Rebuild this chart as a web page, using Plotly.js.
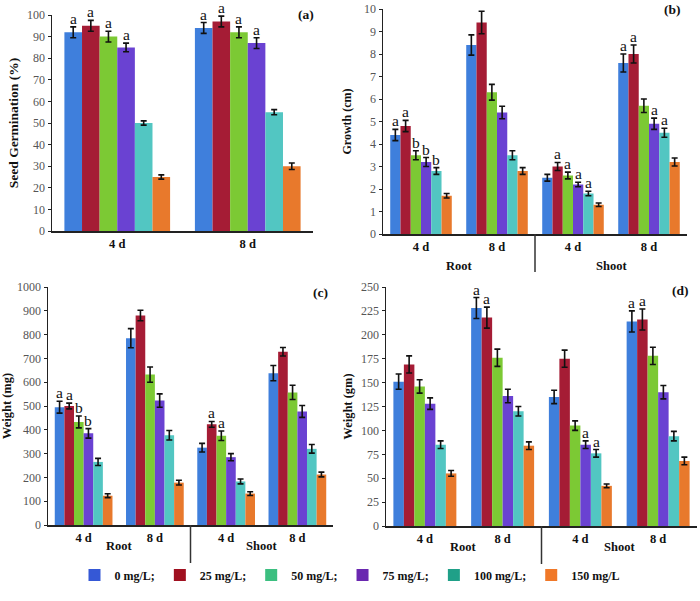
<!DOCTYPE html>
<html>
<head>
<meta charset="utf-8">
<script src="https://cdn.plot.ly/plotly-3.0.1.min.js"></script>
<style>html,body{margin:0;padding:0;background:#fff;}#chart{width:700px;height:601px;}</style>
</head>
<body>
<div id="chart"></div>
<script>
// ---------- data ----------
const seriesNames = ['0 mg/L;', '25 mg/L;', '50 mg/L;', '75 mg/L;', '100 mg/L;', '150 mg/L'];
const barColors = ['#3f7fdc', '#a51c35', '#7cc934', '#6a42d2', '#52c6c2', '#e8792c'];
const legendColors = ['#3558d6', '#a01020', '#3cbf80', '#6a28b0', '#1fa088', '#f07828'];

const catsA = ['4 d', '8 d'];
const cats4 = ['Root 4 d', 'Root 8 d', 'Shoot 4 d', 'Shoot 8 d'];
const tickText4 = ['4 d', '8 d', '4 d', '8 d'];
const partNames = ['Root', 'Shoot'];

// (a) Seed germination (%)
const germ = [[92, 94], [95, 97], [90, 92], [85, 87], [50, 55], [25, 30]];
const germErr = [[2.5, 2.5], [2.5, 2.5], [2.5, 2.5], [2, 2.5], [1, 1.2], [1, 1.5]];
const germLet = [['a', 'a'], ['a', 'a'], ['a', 'a'], ['a', 'a'], ['', ''], ['', '']];

// (b) Growth (cm)
const growth = [[4.4, 8.4, 2.5, 7.6], [4.8, 9.4, 3.0, 8.0], [3.5, 6.3, 2.6, 5.7],
                [3.2, 5.4, 2.2, 4.9], [2.8, 3.5, 1.8, 4.5], [1.7, 2.8, 1.3, 3.2]];
const growthErr = [[0.25, 0.45, 0.15, 0.4], [0.25, 0.5, 0.18, 0.4], [0.2, 0.35, 0.15, 0.3],
                   [0.2, 0.28, 0.1, 0.25], [0.15, 0.2, 0.1, 0.2], [0.1, 0.15, 0.08, 0.18]];
const growthLet = [['a', '', '', 'a'], ['a', '', 'a', 'a'], ['b', '', 'a', ''],
                   ['b', '', 'a', 'a'], ['b', '', 'a', 'a'], ['', '', '', '']];

// (c) Weight (mg)
const wmg = [[495, 785, 325, 638], [500, 880, 423, 728], [433, 632, 375, 557],
             [385, 523, 285, 477], [265, 377, 183, 320], [123, 178, 132, 212]];
const wmgErr = [[25, 40, 18, 32], [12, 22, 12, 18], [25, 32, 20, 30],
                [20, 28, 15, 25], [15, 20, 10, 18], [8, 10, 8, 10]];
const wmgLet = [['a', '', '', ''], ['a', '', 'a', ''], ['b', '', 'a', ''],
                ['b', '', '', ''], ['', '', '', ''], ['', '', '', '']];

// (d) Weight (gm)
const wgm = [[151, 228, 135, 214], [169, 218, 175, 216], [146, 176, 105, 178],
             [128, 136, 85, 140], [85, 120, 76, 94], [55, 84, 42, 68]];
const wgmErr = [[8, 11, 7, 11], [9, 11, 9, 11], [7, 9, 5, 9],
                [6, 7, 4, 7], [4, 5, 4, 5], [3, 4, 2, 4]];
const wgmLet = [['', 'a', '', 'a'], ['', 'a', '', 'a'], ['', '', '', ''],
                ['', '', 'a', ''], ['', '', 'a', ''], ['', '', '', '']];

// ---------- build ----------
const SERIF = 'Liberation Serif, Times New Roman, serif';
const bargap = 0.19;
const traces = [];
const annotations = [];
const shapes = [];

const panels = [
  {x: 'x', y: 'y', cats: catsA, vals: germ, err: germErr, lets: germLet},
  {x: 'x2', y: 'y2', cats: cats4, vals: growth, err: growthErr, lets: growthLet},
  {x: 'x3', y: 'y3', cats: cats4, vals: wmg, err: wmgErr, lets: wmgLet},
  {x: 'x4', y: 'y4', cats: cats4, vals: wgm, err: wgmErr, lets: wgmLet}
];

const nS = seriesNames.length;
const gw = 1 - bargap;
panels.forEach((p) => {
  for (let s = 0; s < nS; s++) {
    traces.push({
      type: 'bar', x: p.cats, y: p.vals[s], xaxis: p.x, yaxis: p.y,
      name: seriesNames[s], showlegend: false,
      marker: {color: barColors[s], line: {width: 0}},
      error_y: {type: 'data', array: p.err[s], visible: true, color: '#111', thickness: 1.6, width: 3},
      hoverinfo: 'skip'
    });
    const off = -gw / 2 + (s + 0.5) * gw / nS;
    p.cats.forEach((c, i) => {
      const t = p.lets[s][i];
      if (t) {
        annotations.push({
          xref: p.x, yref: p.y, x: i + off, y: p.vals[s][i] + p.err[s][i],
          text: t, showarrow: false, yanchor: 'bottom', yshift: -2,
          font: {family: SERIF, size: 15.5, color: '#111'}
        });
      }
    });
  }
});

// legend-only traces (on hidden axes, no visible data)
for (let s = 0; s < nS; s++) {
  traces.push({
    type: 'bar', x: [null], y: [null], xaxis: 'x5', yaxis: 'y5',
    name: seriesNames[s], marker: {color: legendColors[s]}, showlegend: true,
    hoverinfo: 'skip'
  });
}

const tickFont = {family: SERIF, size: 12, color: '#555'};
const catFont = {family: SERIF, size: 12.5, color: '#111', weight: 'bold'};
const titleFont = {family: SERIF, size: 12, color: '#111', weight: 'bold'};

function yax(domain, range, dtick, title, anchor, standoff, tsize) {
  return {
    domain: domain, range: range, dtick: dtick, anchor: anchor,
    showgrid: false, zeroline: false, showline: true, linecolor: '#222', linewidth: 1.5,
    ticks: 'outside', ticklen: 3, tickcolor: '#222', tickfont: tickFont,
    title: {text: title, font: Object.assign({}, titleFont, {size: tsize}), standoff: standoff},
    fixedrange: true
  };
}
function xax(domain, anchor, cats, ticktext) {
  return {
    domain: domain, anchor: anchor, type: 'category',
    tickvals: cats, ticktext: ticktext,
    showgrid: false, zeroline: false, showline: true, linecolor: '#222', linewidth: 1.5,
    ticks: '', tickfont: catFont, fixedrange: true
  };
}

// Root / Shoot labels and separators
[{x: 'x2', ybot: 1 - 234 / 601, ylab: 1 - 266 / 601},
 {x: 'x3', ybot: 1 - 525 / 601, ylab: 1 - 555 / 601},
 {x: 'x4', ybot: 1 - 526 / 601, ylab: 1 - 556 / 601}].forEach(q => {
  partNames.forEach((nm, k) => {
    annotations.push({xref: q.x, yref: 'paper', x: 0.5 + 2 * k, y: q.ylab, text: nm,
      showarrow: false, font: catFont});
  });
  shapes.push({type: 'line', xref: q.x, yref: 'paper', x0: 1.5, x1: 1.5,
    y0: q.ybot, y1: q.ybot - 38 / 601, line: {color: '#333', width: 1.5}});
});

// panel labels
[['(a)', 316, 15], ['(b)', 683, 10], ['(c)', 330, 292], ['(d)', 691, 290]].forEach(l => {
  annotations.push({xref: 'paper', yref: 'paper', x: l[1] / 700, y: 1 - l[2] / 601, text: l[0],
    xanchor: 'right', yanchor: 'middle', showarrow: false,
    font: {family: SERIF, size: 13.5, color: '#111', weight: 'bold'}});
});

const layout = {
  width: 700, height: 601,
  margin: {l: 0, r: 0, t: 0, b: 0},
  paper_bgcolor: '#fff', plot_bgcolor: '#fff',
  barmode: 'group', bargap: bargap, bargroupgap: 0,
  font: {family: SERIF},
  xaxis: xax([52 / 700, 313 / 700], 'y', catsA, catsA),
  yaxis: yax([1 - 231 / 601, 1 - 15 / 601], [0, 100], 10, 'Seed Germination (%)', 'x', 5, 13.5),
  xaxis2: xax([383 / 700, 687 / 700], 'y2', cats4, tickText4),
  yaxis2: yax([1 - 234 / 601, 1 - 9 / 601], [0, 10], 1, 'Growth (cm)', 'x2', 10, 12),
  xaxis3: xax([48 / 700, 333 / 700], 'y3', cats4, tickText4),
  yaxis3: yax([1 - 525 / 601, 1 - 287 / 601], [0, 1000], 100, 'Weight (mg)', 'x3', 5, 12.5),
  xaxis4: xax([386 / 700, 697 / 700], 'y4', cats4, tickText4),
  yaxis4: yax([1 - 526 / 601, 1 - 287 / 601], [0, 250], 25, 'Weight (gm)', 'x4', 5, 12.5),
  xaxis5: {domain: [0, 0.01], anchor: 'y5', visible: false, fixedrange: true},
  yaxis5: {domain: [0, 0.01], anchor: 'x5', visible: false, fixedrange: true},
  showlegend: true,
  legend: {orientation: 'h', x: 0.5, xanchor: 'center', y: 1 - 575 / 601, yanchor: 'middle',
    font: {family: SERIF, size: 12, color: '#111', weight: 'bold'},
    itemwidth: 30, tracegroupgap: 0, bgcolor: 'rgba(0,0,0,0)'},
  annotations: annotations,
  shapes: shapes
};

Plotly.newPlot('chart', traces, layout, {displayModeBar: false, staticPlot: true});
</script>
</body>
</html>
